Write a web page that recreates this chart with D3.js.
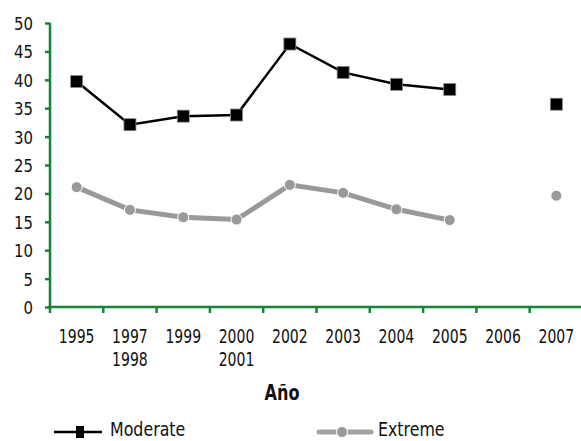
<!DOCTYPE html>
<html><head><meta charset="utf-8">
<script src="https://cdn.jsdelivr.net/npm/d3@7"></script>
<style>
body{margin:0;background:#fff;}
text{font-family:"DejaVu Sans Condensed","Liberation Sans Narrow",sans-serif;fill:#111;}
</style></head>
<body><svg id="c" width="581" height="441"></svg>
<script>
const categories = ["1995","1997\n1998","1999","2000\n2001","2002","2003","2004","2005","2006","2007"];
const moderate = [39.7, 32.1, 33.6, 33.8, 46.3, 41.3, 39.2, 38.3, null, 35.7];
const extreme  = [21.1, 17.1, 15.8, 15.4, 21.5, 20.1, 17.2, 15.3, null, 19.6];
const yTicks = [0,5,10,15,20,25,30,35,40,45,50];
const seriesNames = ["Moderate","Extreme"];
const xTitle = "Año";

const svg = d3.select("#c");
const green = "#15843a", grey = "#999999";
const x = d3.scaleBand().domain(categories).range([50, 583]);
const y = d3.scaleLinear().domain([0,50]).range([307, 23]);

function squeeze(sel, k){
  sel.each(function(){
    const L = this.getComputedTextLength();
    d3.select(this).attr("textLength", L*k).attr("lengthAdjust","spacingAndGlyphs");
  });
}

// axes
const yAxis = svg.append("g").attr("transform","translate(50,0)")
  .call(d3.axisLeft(y).tickValues(yTicks).tickSize(5).tickPadding(12));
yAxis.select(".domain").attr("d","M0,"+y(50)+"V"+y(0)).attr("stroke",green).attr("stroke-width",2.5);
yAxis.selectAll(".tick line").attr("stroke",green).attr("stroke-width",2.5);
yAxis.selectAll(".tick text").style("font-size","18px").attr("fill","#111").attr("dy","0.36em");
squeeze(yAxis.selectAll(".tick text"), 0.92);

const xg = svg.append("g").attr("transform","translate(0,307)");
xg.append("line").attr("x1",48).attr("x2",583).attr("y1",0).attr("y2",0).attr("stroke",green).attr("stroke-width",2.5);
const edges = categories.map(c=>x(c)).concat([x.range()[1]]);
edges.forEach(e=>{
  xg.append("line").attr("x1",e).attr("x2",e).attr("y1",0).attr("y2",6).attr("stroke",green).attr("stroke-width",2.5);
});
categories.forEach(c=>{
  const lines = c.split("\n");
  const t = xg.append("text").attr("text-anchor","middle").style("font-size","19px");
  lines.forEach((l,i)=>t.append("tspan").attr("x",x(c)+x.bandwidth()/2).attr("y",36+i*22.5).text(l));
});
squeeze(xg.selectAll("tspan"), 0.82);

const tt = svg.append("text").attr("x",282).attr("y",400).attr("text-anchor","middle")
  .style("font-size","21px").style("font-weight","bold").text(xTitle);
squeeze(tt, 0.85);

const cx = c => x(c)+x.bandwidth()/2;
const line = d3.line().defined(d=>d[1]!=null).x(d=>cx(d[0])).y(d=>y(d[1]));

// extreme
const exData = categories.map((c,i)=>[c,extreme[i]]);
svg.append("path").datum(exData).attr("d",line).attr("fill","none").attr("stroke",grey).attr("stroke-width",5);
svg.selectAll(".ex").data(exData.filter(d=>d[1]!=null)).enter().append("circle")
  .attr("cx",d=>cx(d[0])).attr("cy",d=>y(d[1])).attr("r",5.5).attr("fill",grey).attr("stroke","#fff").attr("stroke-width",1);

// moderate
const moData = categories.map((c,i)=>[c,moderate[i]]);
svg.append("path").datum(moData).attr("d",line).attr("fill","none").attr("stroke","#000").attr("stroke-width",2.5);
svg.selectAll(".mo").data(moData.filter(d=>d[1]!=null)).enter().append("rect")
  .attr("x",d=>cx(d[0])-6).attr("y",d=>y(d[1])-6).attr("width",12).attr("height",12)
  .attr("fill","#000").attr("stroke","#888").attr("stroke-width",0.8);

// legend
const lg = svg.append("g");
lg.append("line").attr("x1",54).attr("x2",102).attr("y1",432).attr("y2",432).attr("stroke","#000").attr("stroke-width",2.5);
lg.append("rect").attr("x",76).attr("y",426).attr("width",8).attr("height",12).attr("fill","#000");
const l1 = lg.append("text").attr("x",110).attr("y",436).style("font-size","20px").text(seriesNames[0]);
lg.append("line").attr("x1",319).attr("x2",371).attr("y1",432).attr("y2",432).attr("stroke","#a3a3a3").attr("stroke-width",5).attr("stroke-linecap","round");
lg.append("circle").attr("cx",342).attr("cy",432).attr("r",5.5).attr("fill",grey).attr("stroke","#fff").attr("stroke-width",1);
const l2 = lg.append("text").attr("x",378).attr("y",436).style("font-size","20px").text(seriesNames[1]);
squeeze(l1, 0.88); squeeze(l2, 0.88);
</script></body></html>
